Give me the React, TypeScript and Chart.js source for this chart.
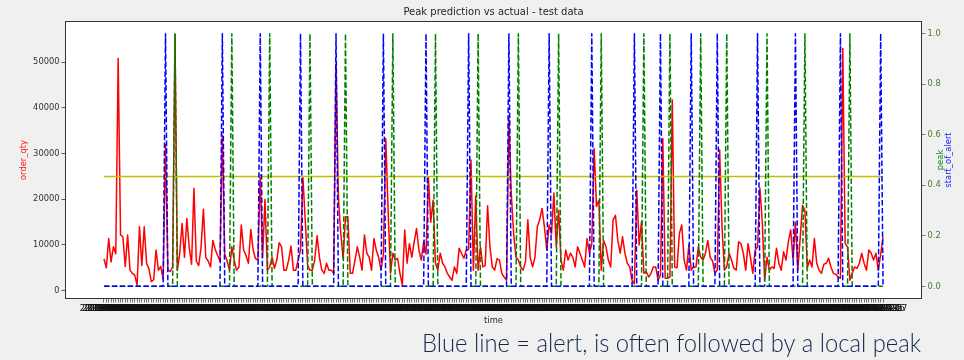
import React, { useEffect, useRef } from "react";
import { Chart, registerables } from "chart.js";

Chart.register(...registerables);

// Daily order quantity over the test period
const orderQty = [
  7000, 5000, 11400, 6300, 9600, 8100, 50800, 12200, 11800, 5300,
  12200, 4500, 3800, 3400, 1200, 14000, 5500, 14000, 6000, 4800,
  2000, 2400, 8900, 4500, 5300, 2400, 32000, 4500, 4200, 5200,
  56000, 4500, 8200, 14700, 7300, 15800, 9500, 5800, 22400, 6500,
  5500, 9500, 17800, 7300, 6500, 5200, 11000, 9000, 7700, 6500,
  34000, 8000, 6500, 4500, 9600, 6700, 4500, 5200, 14400, 8900,
  7700, 6000, 13400, 8900, 7000, 6700, 25300, 7300, 20000, 4500,
  5200, 7300, 4900, 6700, 10500, 9600, 4500, 4500, 6700, 9800,
  4500, 4500, 6700, 8900, 24900, 15500, 5500, 4500, 4500, 6700,
  12000, 7300, 4500, 3800, 6000, 4500, 4500, 3800, 49500, 20500,
  12500, 7000, 16200, 16200, 3800, 3800, 6700, 9600, 7300, 4500,
  12200, 8200, 7300, 4500, 11400, 8900, 7300, 4500, 8000, 33300,
  17600, 3800, 8200, 6700, 7100, 3800, 1200, 13300, 6000, 10300,
  7300, 10700, 13600, 8900, 6700, 10700, 8000, 24800, 15000, 19800,
  6000, 4500, 8200, 6000, 5200, 3800, 3000, 2300, 5200, 3800,
  9300, 8200, 7100, 8900, 9000, 28600, 4500, 20700, 4500, 9600,
  5200, 5500, 18600, 9600, 5200, 4500, 7000, 6700, 3800, 3000,
  2300, 37700, 21300, 12500, 7300, 6700, 5200, 4500, 6300, 15500,
  7300, 5200, 7300, 14000, 15500, 18000, 14000, 8900, 14400, 12400,
  21400, 9600, 17600, 6700, 4500, 8900, 6700, 8200, 7300, 5200,
  9600, 8200, 6700, 5200, 11400, 8200, 10200, 31100, 18400, 19800,
  4500, 11000, 9600, 6700, 5200, 15500, 16500, 11000, 8200, 11800,
  8200, 6000, 5200, 2300, 1500, 22000, 10000, 15100, 3800, 4200,
  3000, 3800, 5200, 5200, 2300, 3400, 33300, 2700, 2700, 3000,
  41700, 5200, 5000, 12500, 14400, 6700, 4500, 10000, 4500, 5200,
  5200, 9600, 7300, 6700, 8200, 11000, 7300, 6500, 3800, 4500,
  30800, 14000, 4500, 5200, 8200, 6700, 4900, 4500, 10700, 10300,
  8200, 4500, 10300, 7300, 3800, 8900, 9500, 22400, 15100, 2300,
  7300, 4500, 5200, 4900, 9300, 6000, 4500, 8500, 6700, 10700,
  13300, 6700, 15000, 4500, 11400, 18700, 17600, 5000, 6700, 5200,
  11400, 6000, 4500, 3800, 5800, 6000, 7100, 5200, 3800, 3600,
  3000, 2700, 53000, 10300, 9600, 2300, 3800, 5200, 4900, 6000,
  8200, 6000, 4500, 8900, 8200, 6700, 8200, 4500, 8000, 11700,
];

// Days on which the model raised an alert (start_of_alert = 1)
const alertDays = [26, 50, 66, 83, 98, 118, 136, 154, 171, 188, 206, 224, 235, 248, 259, 276, 292, 311, 328];
// Days flagged as actual peaks (peak = 1)
const peakDays = [30, 54, 70, 87, 102, 122, 140, 158, 175, 192, 210, 228, 239, 252, 263, 280, 296, 315];

const peakThreshold = 25000;
const firstDay = "2018-09-01";
const qtyTicks = [0, 10000, 20000, 30000, 40000, 50000];
const flagTicks = [0, 0.2, 0.4, 0.6, 0.8, 1.0];

const chartTitle = "Peak prediction vs actual - test data";
const xTitle = "time";
const qtyTitle = "order_qty";
const peakTitle = "peak";
const alertTitle = "start_of_alert";
const caption = "Blue line = alert, is often followed by a local peak";

const FONT = "'DejaVu Sans', sans-serif";

function buildDayLabels(start: string, count: number): string[] {
  const out: string[] = [];
  const t0 = Date.parse(start + "T00:00:00Z");
  for (let i = 0; i < count; i++) {
    out.push(new Date(t0 + i * 86400000).toISOString().slice(0, 10));
  }
  return out;
}

const decorPlugin = {
  id: "decor",
  beforeDraw(chart: any) {
    const { ctx, chartArea: a } = chart;
    ctx.save();
    ctx.fillStyle = "#f0f0f0";
    ctx.fillRect(0, 0, chart.width, chart.height);
    ctx.fillStyle = "#ffffff";
    ctx.fillRect(a.left, a.top, a.right - a.left, a.bottom - a.top);
    ctx.restore();
  },
  afterDraw(chart: any) {
    const { ctx, chartArea: a } = chart;
    ctx.save();
    // axes frame
    ctx.strokeStyle = "#333333";
    ctx.lineWidth = 1;
    ctx.strokeRect(Math.round(a.left) + 0.5, Math.round(a.top) + 0.5, Math.round(a.right - a.left) - 1, Math.round(a.bottom - a.top) - 1);

    // title
    ctx.fillStyle = "#262626";
    ctx.font = `10px ${FONT}`;
    ctx.textAlign = "center";
    ctx.textBaseline = "alphabetic";
    ctx.fillText(chartTitle, (a.left + a.right) / 2, 15);

    // x axis title
    ctx.font = `8.4px ${FONT}`;
    ctx.textBaseline = "middle";
    ctx.fillStyle = "#262626";
    ctx.fillText(xTitle, (a.left + a.right) / 2, 321);

    // rotated axis titles
    const vtext = (txt: string, x: number, color: string) => {
      ctx.save();
      ctx.translate(x, (a.top + a.bottom) / 2);
      ctx.rotate(-Math.PI / 2);
      ctx.fillStyle = color;
      ctx.textAlign = "center";
      ctx.textBaseline = "middle";
      ctx.fillText(txt, 0, 0);
      ctx.restore();
    };
    vtext(qtyTitle, 24, "#ff1a1a");
    vtext(peakTitle, 941, "#1a8a1a");
    vtext(alertTitle, 948.5, "#2020ff");

    // caption below the figure
    ctx.font = `300 25px Lato, 'Open Sans', sans-serif`;
    ctx.fillStyle = "#13284c";
    ctx.textAlign = "left";
    ctx.textBaseline = "alphabetic";
    ctx.fillText(caption, 422, 352, 499);
    ctx.restore();
  },
};

export default function App() {
  const canvasRef = useRef<HTMLCanvasElement | null>(null);

  useEffect(() => {
    const canvas = canvasRef.current;
    if (!canvas) return;
    const n = orderQty.length;
    const dayLabels = buildDayLabels(firstDay, n);
    const dayIdx = orderQty.map((_, i) => i);
    const alertFlag = dayIdx.map((i) => ({ x: i, y: alertDays.includes(i) ? 1 : 0 }));
    const peakFlag = dayIdx.map((i) => ({ x: i, y: peakDays.includes(i) ? 1 : 0 }));
    const qtyPoints = orderQty.map((v, i) => ({ x: i, y: v }));
    const thresholdPoints = [
      { x: 0, y: peakThreshold },
      { x: n - 1, y: peakThreshold },
    ];

    const chart = new Chart(canvas, {
      type: "line",
      data: {
        datasets: [
          {
            label: alertTitle,
            data: alertFlag,
            yAxisID: "y1",
            borderColor: "#0000ff",
            borderWidth: 1.5,
            borderDash: [5.5, 2.4],
            borderJoinStyle: "round",
            pointRadius: 0,
            tension: 0,
            order: 0,
          },
          {
            label: peakTitle,
            data: peakFlag,
            yAxisID: "y1",
            borderColor: "#008000",
            borderWidth: 1.5,
            borderDash: [5.5, 2.4],
            borderJoinStyle: "round",
            pointRadius: 0,
            tension: 0,
            order: 1,
          },
          {
            label: "threshold",
            data: thresholdPoints,
            yAxisID: "y",
            borderColor: "#bfbf00",
            borderWidth: 1.5,
            pointRadius: 0,
            order: 2,
          },
          {
            label: qtyTitle,
            data: qtyPoints,
            yAxisID: "y",
            borderColor: "#ff0000",
            borderWidth: 1.5,
            borderJoinStyle: "round",
            pointRadius: 0,
            tension: 0,
            order: 3,
          },
        ],
      },
      options: {
        animation: false,
        responsive: false,
        events: [],
        layout: { padding: { top: 21, left: 0, right: 0, bottom: 0 } },
        plugins: {
          legend: { display: false },
          title: { display: false },
          tooltip: { enabled: false },
        },
        scales: {
          x: {
            type: "linear",
            min: -0.05 * (n - 1),
            max: 1.05 * (n - 1),
            afterBuildTicks: (s: any) => {
              s.ticks = dayIdx.map((v) => ({ value: v }));
            },
            afterFit: (s: any) => {
              s.height = 61;
            },
            border: { display: false },
            grid: {
              drawOnChartArea: false,
              drawTicks: true,
              tickLength: 3.5,
              color: "#555555",
              lineWidth: 0.8,
            },
            ticks: {
              autoSkip: false,
              maxRotation: 0,
              minRotation: 0,
              padding: 1,
              color: "#111111",
              font: { family: FONT, size: 8.3 },
              callback: (v: any) => dayLabels[v] ?? "",
            },
          },
          y: {
            position: "left",
            min: -1816,
            max: 59010,
            afterBuildTicks: (s: any) => {
              s.ticks = qtyTicks.map((v) => ({ value: v }));
            },
            afterFit: (s: any) => {
              s.width = 65;
            },
            border: { display: false },
            grid: {
              drawOnChartArea: false,
              drawTicks: true,
              tickLength: 3.5,
              color: "#333333",
              lineWidth: 0.8,
            },
            ticks: {
              padding: 2,
              color: "#333333",
              font: { family: FONT, size: 8.3 },
              callback: (v: any) => String(v),
            },
          },
          y1: {
            position: "right",
            min: -0.05,
            max: 1.05,
            afterBuildTicks: (s: any) => {
              s.ticks = flagTicks.map((v) => ({ value: v }));
            },
            afterFit: (s: any) => {
              s.width = 42;
            },
            border: { display: false },
            grid: {
              drawOnChartArea: false,
              drawTicks: true,
              tickLength: 3.5,
              color: "#4e7a27",
              lineWidth: 0.8,
            },
            ticks: {
              padding: 2,
              color: "#4e7a27",
              font: { family: FONT, size: 8.3 },
              callback: (v: any) => Number(v).toFixed(1),
            },
          },
        },
      },
      plugins: [decorPlugin],
    } as any);

    return () => chart.destroy();
  }, []);

  return (
    <div
      style={{
        position: "absolute",
        left: 0,
        top: 0,
        width: 964,
        height: 360,
        background: "#f0f0f0",
        overflow: "hidden",
      }}
    >
      <canvas ref={canvasRef} width={964} height={360} style={{ display: "block", width: 964, height: 360 }} />
    </div>
  );
}
